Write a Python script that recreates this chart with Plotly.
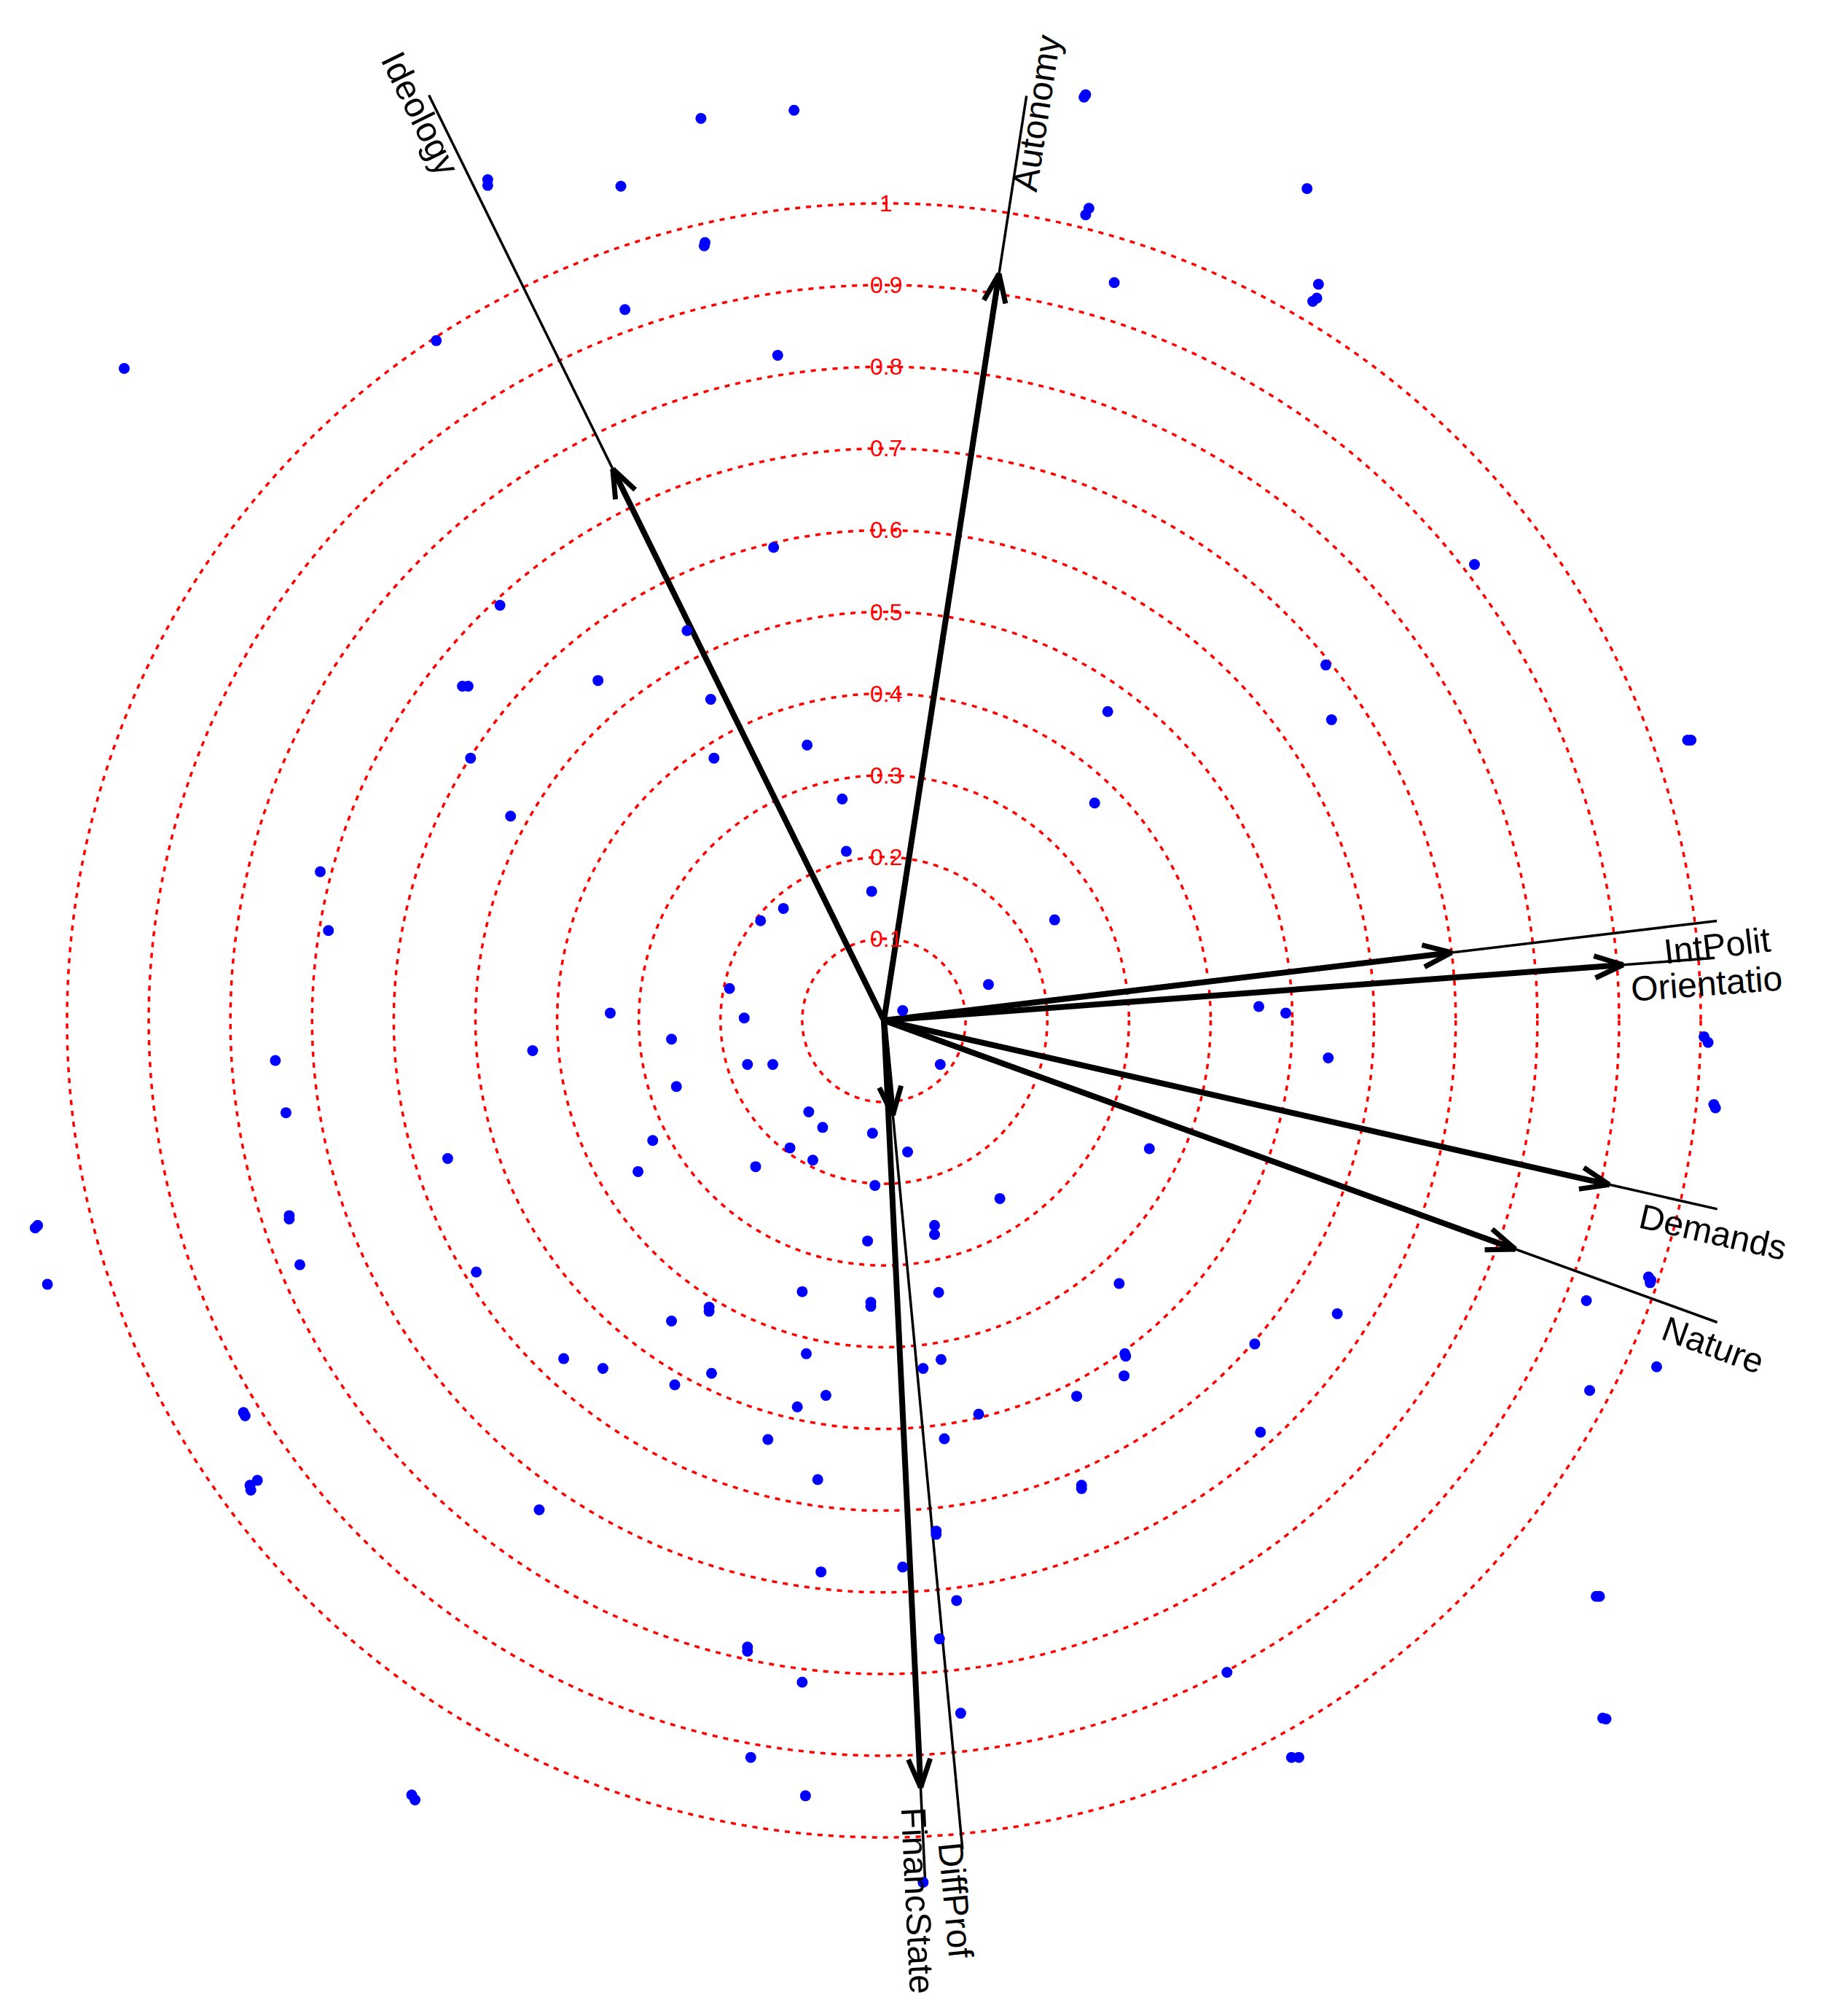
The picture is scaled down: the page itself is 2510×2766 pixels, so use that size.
import numpy as np
import plotly.graph_objects as go

# loadings of the variables (arrow tips)
variables = ["Ideology", "Autonomy", "IntPolit", "Orientatio", "Demands", "Nature", "FinancState", "DiffProf"]
load_x = [-0.332, 0.141, 0.695, 0.905, 0.888, 0.773, 0.045, 0.011]
load_y = [0.675, 0.914, 0.083, 0.068, -0.201, -0.280, -0.939, -0.116]
# length of the thin guide line drawn past each arrow
line_len = [1.262, 1.145, 1.027, 1.020, 1.046, 1.085, 1.054, 1.019]

# reference circles
radii = [0.1, 0.2, 0.3, 0.4, 0.5, 0.6, 0.7, 0.8, 0.9, 1.0]
radii_labels = ["0.1", "0.2", "0.3", "0.4", "0.5", "0.6", "0.7", "0.8", "0.9", "1"]

# individual scores
score_x = [-0.224, -0.110, -0.485, -0.485, -0.322, -0.220, -0.219, -0.317, -0.548, -0.930,
           -0.130, -0.135, -0.470, -0.241, -0.516, -0.509, -0.350, -0.212, -0.094, -0.506,
           -0.208, -0.051, -0.457, -0.046, -0.690, -0.015, -0.123, -0.151, -0.680, -0.189,
           -0.335, -0.171, 0.023,
           0.245, 0.247, 0.518, 0.251, 0.247, 0.282, 0.532, 0.525, 0.530, 0.723,
           0.541, 0.274, 0.548, 0.984, 0.988, 0.258, 0.209, 0.128, 0.459, 0.492,
           -0.745, -0.430, -0.260, -0.167, -0.136, -0.254, -0.732, -0.092, -0.075, -0.014,
           0.029, -0.534, -0.283, -0.115, -0.087, -0.301, -0.157, -0.011, -1.039, -1.036,
           -0.728, -0.728, -0.715, -1.024, -0.499, -0.020, -0.100, -0.214, -0.214, -0.016,
           -0.016, -0.260, -0.392, -0.344, -0.095, -0.211, -0.256, -0.071, -0.106, -0.784,
           -0.782, -0.142, -0.081, -0.776, -0.767, -0.775, -0.422, -0.077, 0.023, -0.167,
           -0.167, -0.100, -0.163, -0.578, -0.574, -0.096,
           0.069, 0.544, 1.004, 1.009, 1.016, 1.018, 0.325, 0.142, 0.062, 0.062,
           0.067, 0.288, 0.936, 0.939, 0.938, 0.555, 0.860, 0.454, 0.295, 0.296,
           0.294, 0.070, 0.048, 0.946, 0.236, 0.116, 0.864, 0.074, 0.461, 0.242,
           0.242, 0.064, 0.064, 0.089, 0.872, 0.876, 0.068, 0.420, 0.094, 0.880,
           0.884, 0.499, 0.508, 0.048]
score_y = [1.104, 1.114, 1.029, 1.022, 1.021, 0.948, 0.952, 0.870, 0.832, 0.798,
           0.814, 0.579, 0.508, 0.477, 0.409, 0.409, 0.416, 0.393, 0.337, 0.321,
           0.321, 0.271, 0.250, 0.207, 0.182, 0.158, 0.137, 0.122, 0.110, 0.039,
           0.009, 0.003, 0.012,
           1.130, 1.133, 1.018, 0.994, 0.986, 0.903, 0.901, 0.880, 0.884, 0.558,
           0.435, 0.378, 0.368, 0.343, 0.343, 0.266, 0.123, 0.044, 0.017, 0.009,
           -0.049, -0.037, -0.023, -0.054, -0.054, -0.081, -0.113, -0.112, -0.131, -0.138,
           -0.161, -0.169, -0.147, -0.156, -0.171, -0.185, -0.179, -0.202, -0.254, -0.251,
           -0.239, -0.243, -0.299, -0.323, -0.308, -0.270, -0.332, -0.351, -0.356, -0.345,
           -0.350, -0.368, -0.414, -0.426, -0.408, -0.432, -0.446, -0.459, -0.473, -0.480,
           -0.484, -0.513, -0.562, -0.569, -0.563, -0.575, -0.599, -0.675, -0.669, -0.767,
           -0.772, -0.810, -0.902, -0.948, -0.954, -0.949,
           -0.054, -0.046, -0.020, -0.027, -0.103, -0.107, -0.157, -0.218, -0.251, -0.262,
           -0.333, -0.322, -0.314, -0.318, -0.321, -0.359, -0.343, -0.396, -0.408, -0.411,
           -0.435, -0.415, -0.426, -0.424, -0.460, -0.482, -0.453, -0.512, -0.504, -0.569,
           -0.573, -0.625, -0.629, -0.710, -0.705, -0.705, -0.757, -0.798, -0.848, -0.854,
           -0.855, -0.902, -0.902, -1.055]

W, H = 2510, 2766
PX = 1121.0          # pixels per unit
# origin inside the plot div (page has an 8px body margin)
CX, CY = 1213 - 8, 1400 - 8
FONT = "Liberation Sans, Arial, Helvetica, sans-serif"

# label nudges in pixels (right, down) from the end of the guide line
label_nudge = [(-12, 25), (14, 24), (0, 34), (-11, 35), (-6, 32), (-6, 31), (-10, 27), (-9, 70)]

fig = go.Figure()

# dashed red circles
for r in radii:
    fig.add_shape(type="circle", xref="x", yref="y", x0=-r, y0=-r, x1=r, y1=r,
                  line=dict(color="red", width=3.5, dash="7px,8px"), layer="below")

# thin guide lines, thick shafts and open arrow heads
thin_x, thin_y, shaft_x, shaft_y, head_x, head_y = [], [], [], [], [], []
barb = 42 / PX
half = np.deg2rad(21)
line_ends = []
for lx, ly, ll in zip(load_x, load_y, line_len):
    n = np.hypot(lx, ly)
    ux, uy = lx / n, ly / n
    ex, ey = ux * ll, uy * ll
    line_ends.append((ex, ey))
    thin_x += [0, ex, None]
    thin_y += [0, ey, None]
    shaft_x += [0, lx, None]
    shaft_y += [0, ly, None]
    for s in (half, -half):
        bx = -(ux * np.cos(s) - uy * np.sin(s))
        by = -(ux * np.sin(s) + uy * np.cos(s))
        head_x += [lx + barb * bx, lx, None]
        head_y += [ly + barb * by, ly, None]

fig.add_trace(go.Scatter(x=thin_x, y=thin_y, mode="lines",
                         line=dict(color="black", width=3.5), hoverinfo="skip"))
fig.add_trace(go.Scatter(x=shaft_x, y=shaft_y, mode="lines",
                         line=dict(color="black", width=8), hoverinfo="skip"))
fig.add_trace(go.Scatter(x=head_x, y=head_y, mode="lines",
                         line=dict(color="black", width=7), hoverinfo="skip"))

fig.add_trace(go.Scatter(x=score_x, y=score_y, mode="markers",
                         marker=dict(color="#0000ff", size=15, line=dict(width=0))))

annotations = []
for r, t in zip(radii, radii_labels):
    annotations.append(dict(x=0.003, y=r, xref="x", yref="y", text=t, showarrow=False,
                            xanchor="center", yanchor="middle",
                            font=dict(family=FONT, size=32, color="red")))

for name, (ex, ey), (nx, ny) in zip(variables, line_ends, label_nudge):
    ang = np.degrees(np.arctan2(-ey, ex))
    if ang < -90:
        ang += 180
    elif ang > 90:
        ang -= 180
    annotations.append(dict(x=ex + nx / PX, y=ey - ny / PX, xref="x", yref="y", text=name,
                            showarrow=False, textangle=ang, xanchor="center", yanchor="middle",
                            font=dict(family=FONT, size=48, color="black")))

fig.update_layout(
    width=W, height=H,
    margin=dict(l=0, r=0, t=0, b=0),
    paper_bgcolor="white", plot_bgcolor="white",
    showlegend=False,
    annotations=annotations,
    xaxis=dict(range=[-CX / PX, (W - CX) / PX], visible=False, fixedrange=True),
    yaxis=dict(range=[(CY - H) / PX, CY / PX], visible=False, fixedrange=True),
)

fig.write_html("out.html")
